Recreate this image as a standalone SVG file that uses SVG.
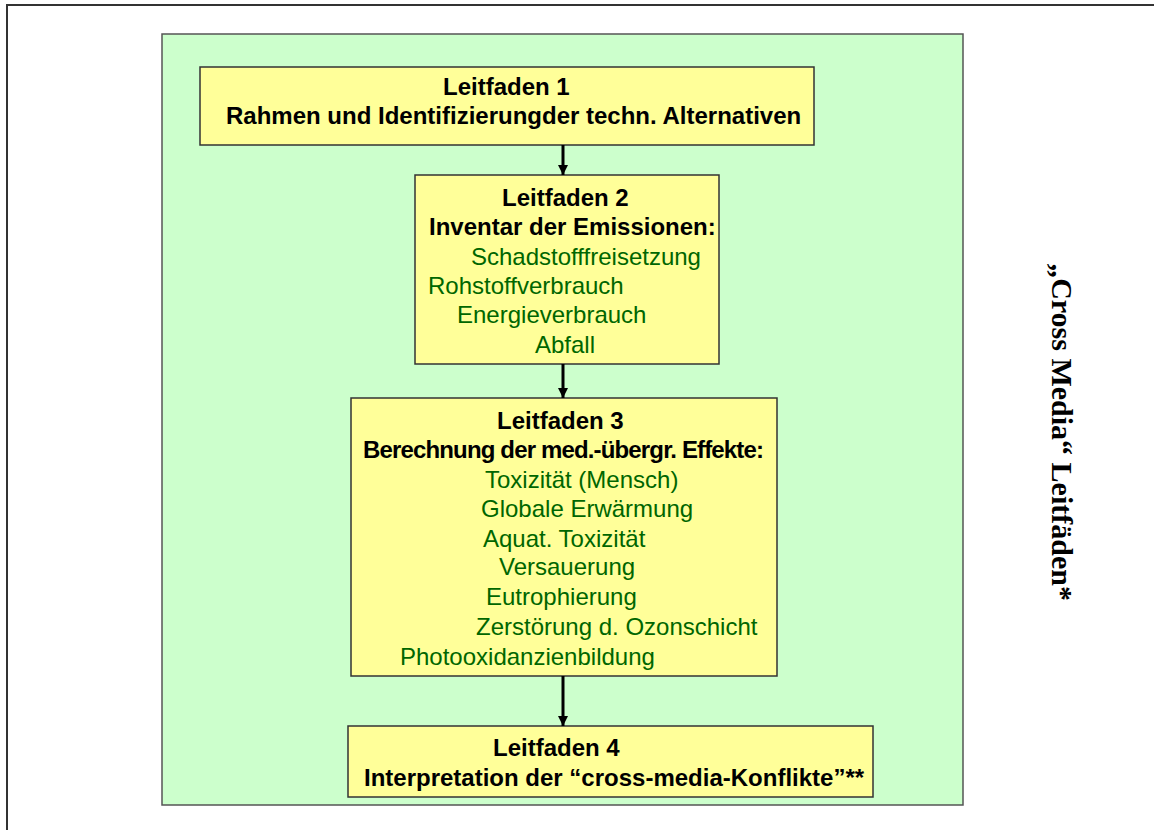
<svg xmlns="http://www.w3.org/2000/svg" width="1154" height="830" viewBox="0 0 1154 830">
<defs>
<marker id="ah" markerWidth="10" markerHeight="10" refX="10" refY="5" orient="auto" markerUnits="userSpaceOnUse" viewBox="0 0 10 10">
<path d="M0,0 L10,5 L0,10 z" fill="#000"/>
</marker>
<style>
.box{fill:#ffff99;stroke:#333;stroke-width:1.5}
.h{font-family:"Liberation Sans",Arial,sans-serif;font-weight:bold;font-size:24px;fill:#000}
.g{font-family:"Liberation Sans",Arial,sans-serif;font-size:24px;fill:#006600}
.c{stroke:#000;stroke-width:3;fill:none}
</style>
</defs>
<rect x="0" y="0" width="1154" height="830" fill="#fff"/>
<path d="M7,830 L7,5 L1154,5" fill="none" stroke="#333" stroke-width="2"/>
<rect id="panel" x="162" y="34" width="801" height="771" fill="#ccffcc" stroke="#555" stroke-width="1.5"/>
<g id="node1">
<rect class="box" x="200" y="67" width="614" height="78"/>
<text class="h" x="443" y="95">Leitfaden 1</text>
<text class="h" x="226" y="124">Rahmen und Identifizierungder techn. Alternativen</text>
</g>
<g id="node2">
<rect class="box" x="415" y="175" width="304" height="189"/>
<text class="h" x="502" y="206">Leitfaden 2</text>
<text class="h" x="429" y="235">Inventar der Emissionen:</text>
<text class="g" x="471" y="265">Schadstofffreisetzung</text>
<text class="g" x="428" y="294">Rohstoffverbrauch</text>
<text class="g" x="457" y="323">Energieverbrauch</text>
<text class="g" x="535" y="353">Abfall</text>
</g>
<g id="node3">
<rect class="box" x="351" y="398" width="426" height="278"/>
<text class="h" x="497" y="429">Leitfaden 3</text>
<text class="h" x="363" y="458" textLength="401" lengthAdjust="spacing">Berechnung der med.-übergr. Effekte:</text>
<text class="g" x="485" y="488">Toxizität (Mensch)</text>
<text class="g" x="481" y="517">Globale Erwärmung</text>
<text class="g" x="483" y="547">Aquat. Toxizität</text>
<text class="g" x="499" y="575">Versauerung</text>
<text class="g" x="486" y="605">Eutrophierung</text>
<text class="g" x="476" y="635">Zerstörung d. Ozonschicht</text>
<text class="g" x="400" y="665">Photooxidanzienbildung</text>
</g>
<g id="node4">
<rect class="box" x="348" y="726" width="525" height="71"/>
<text class="h" x="493" y="756">Leitfaden 4</text>
<text class="h" x="364" y="786">Interpretation der “cross-media-Konflikte”**</text>
</g>
<g id="connectors">
<line class="c" x1="563" y1="145" x2="563" y2="175" marker-end="url(#ah)"/>
<line class="c" x1="563" y1="364" x2="563" y2="398" marker-end="url(#ah)"/>
<line class="c" x1="563" y1="676" x2="563" y2="726" marker-end="url(#ah)"/>
</g>
<g id="side">
<text x="0" y="0" transform="translate(1052,432) rotate(90)" text-anchor="middle" font-family="'Liberation Serif','Times New Roman',serif" font-weight="bold" font-size="30" fill="#000">„Cross Media“ Leitfäden*</text>
</g>
</svg>
